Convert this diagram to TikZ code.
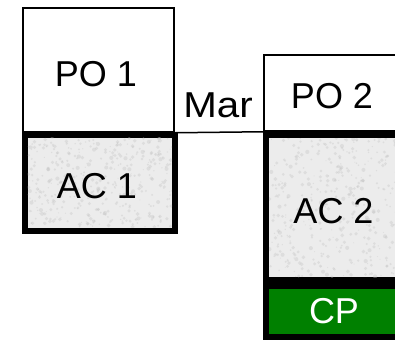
\documentclass[tikz,border=0pt]{standalone}
\usepackage{fontspec}
\setmainfont{Liberation Sans}
\definecolor{stone}{RGB}{236,236,236}
\definecolor{speck}{RGB}{195,195,195}
\definecolor{cpgreen}{RGB}{0,128,0}
% scatter soft grey specks over a rectangle (x1,y1)-(x2,y2)
\newcommand\stonespecks[4]{%
  \begin{scope}
    \clip (#1,#2) rectangle (#3,#4);
    \foreach \k in {1,...,420}{%
      \pgfmathsetmacro\px{#1+rnd*(#3-#1)}%
      \pgfmathsetmacro\py{#2+rnd*(#4-#2)}%
      \pgfmathsetmacro\pr{0.5+rnd*1.6}%
      \fill[speck, opacity=0.35] (\px,\py) circle (\pr);
    }
  \end{scope}}
\begin{document}
\begin{tikzpicture}[x=1pt,y=1pt,
  pobox/.style={draw=black, line width=1.5pt, fill=white, inner sep=0pt},
  acbox/.style={draw=black, line width=6pt, fill=stone, inner sep=0pt},
  cpbox/.style={draw=black, line width=6pt, fill=cpgreen, inner sep=0pt},
  lbl/.style={inner sep=0pt, anchor=base, font=\fontsize{36}{40}\selectfont},
  link/.style={draw=black, line width=1.5pt}]
\useasboundingbox (0,0) rectangle (395,-341);
\clip (0,0) rectangle (395,-341);
\pgfmathsetseed{4242}

% left column
\node[pobox, minimum width=151, minimum height=124] (po1) at (98.5,-70) {};
\node[acbox, minimum width=150.3, minimum height=95.7] (ac1) at (99.85,-182.65) {};
\stonespecks{27.7}{-137.8}{172}{-227.5}

% right column
\node[pobox, minimum width=138, minimum height=76] (po2) at (333,-93) {};
\node[acbox, minimum width=138, minimum height=145] (ac2) at (335,-207.5) {};
\stonespecks{269}{-138}{400}{-277}
\node[cpbox, minimum width=138, minimum height=51] (cp) at (335,-311.5) {};

% link between the two columns
\draw[link] (po1.south east) -- (po2.south west);
\node[lbl, xscale=1.12] (mar) at (218,-117) {Mar};

% labels
\node[lbl] (po1t) at (96,-86) {PO 1};
\node[lbl] (ac1t) at (97,-198) {AC 1};
\node[lbl] (po2t) at (332,-108) {PO 2};
\node[lbl] (ac2t) at (333.5,-223) {AC 2};
\node[lbl, text=white] (cpt) at (334,-323) {CP};
\end{tikzpicture}
\end{document}
